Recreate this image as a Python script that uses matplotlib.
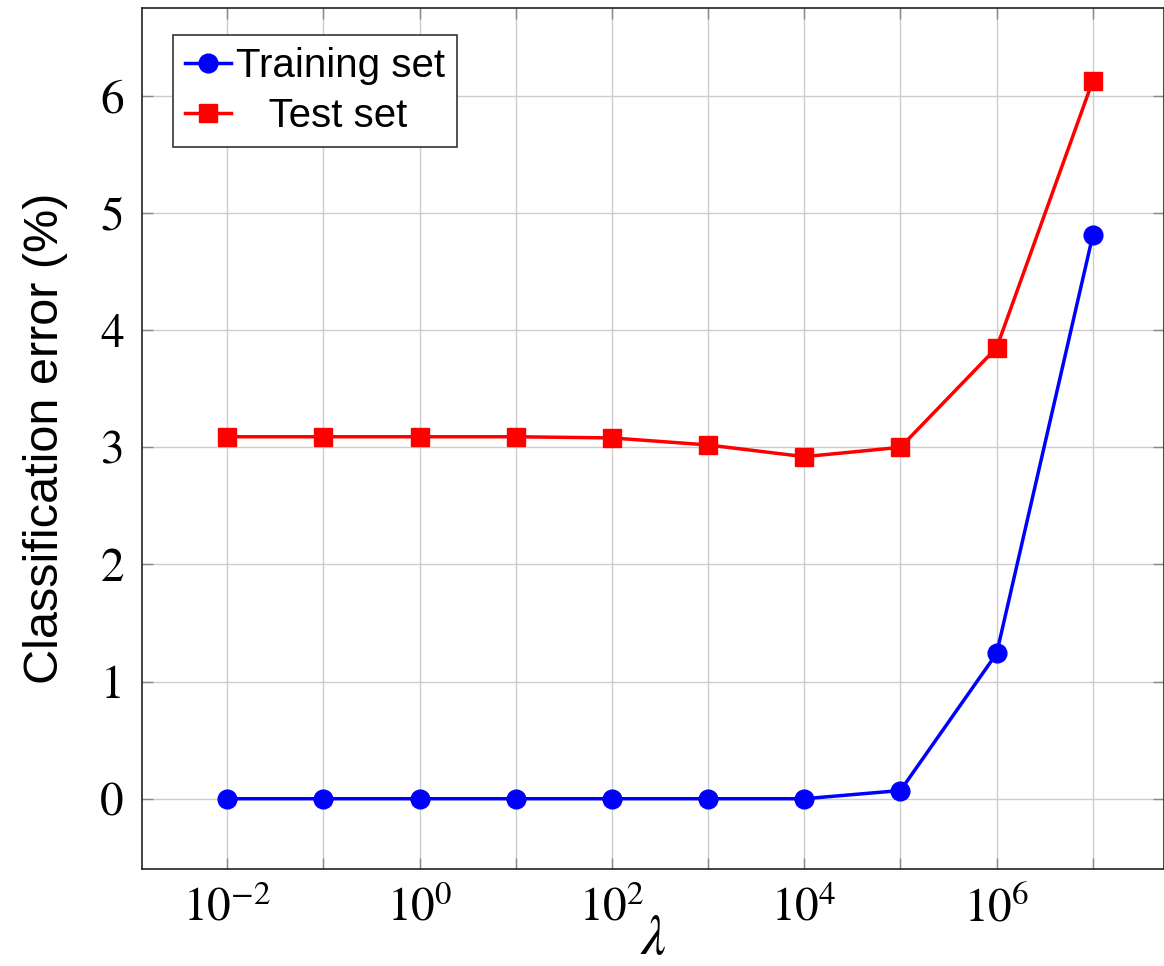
import matplotlib
matplotlib.use("Agg")
import matplotlib.pyplot as plt

plt.rcParams["mathtext.fontset"] = "stix"

# Regularisation strengths and classification errors (%)
lambdas = [1e-2, 1e-1, 1e0, 1e1, 1e2, 1e3, 1e4, 1e5, 1e6, 1e7]
train_err = [0.0, 0.0, 0.0, 0.0, 0.0, 0.0, 0.0, 0.07, 1.24, 4.81]
test_err = [3.09, 3.09, 3.09, 3.09, 3.08, 3.02, 2.92, 3.00, 3.85, 6.13]
y_ticks = [0, 1, 2, 3, 4, 5, 6]
x_ticks = [1e-2, 1e-1, 1e0, 1e1, 1e2, 1e3, 1e4, 1e5, 1e6, 1e7]
x_labels = [r"$10^{-2}$", "", r"$10^{0}$", "", r"$10^{2}$", "",
            r"$10^{4}$", "", r"$10^{6}$", ""]

fig = plt.figure(figsize=(11.64, 9.66), dpi=100)
ax = fig.add_axes([0.122, 0.1004, 0.878, 0.8913])

ax.plot(lambdas, train_err, color="blue", marker="o", markersize=13.5,
        linewidth=2.5, label="Training set", zorder=3)
ax.plot(lambdas, test_err, color="red", marker="s", markersize=13.0,
        linewidth=2.5, label="   Test set", zorder=3)

ax.set_xscale("log")
ax.set_xlim(10 ** -2.885, 10 ** 7.74)
ax.set_ylim(-0.6, 6.75)

ax.set_xticks(x_ticks)
ax.set_xticklabels(x_labels)
ax.xaxis.set_minor_locator(matplotlib.ticker.NullLocator())
ax.set_yticks(y_ticks)
ax.set_yticklabels([str(v) for v in y_ticks])

serif = "STIXGeneral"
for lab in ax.get_xticklabels() + ax.get_yticklabels():
    lab.set_fontfamily(serif)
    lab.set_fontsize(34)

ax.tick_params(axis="both", which="major", direction="in", length=8,
               width=1.0, color="#888888", top=True, right=True)
ax.tick_params(axis="x", pad=13)
ax.tick_params(axis="y", pad=13)

ax.grid(True, color="#cccccc", linewidth=1.0)
ax.set_axisbelow(True)

for sp in ax.spines.values():
    sp.set_linewidth(1.2)
    sp.set_color("#222222")

ax.set_ylabel("Classification error (%)", fontfamily="Liberation Sans",
              fontsize=35)
ax.yaxis.set_label_coords(-0.072, 0.5)
ax.set_xlabel(r"$\lambda$", fontsize=40, labelpad=-14)

leg = ax.legend(loc="upper left", bbox_to_anchor=(0.0304, 0.9686),
                prop={"family": "Liberation Sans", "size": 29},
                fancybox=False, framealpha=1.0, edgecolor="#333333",
                handlelength=1.15, handletextpad=0.12, borderpad=0.3,
                labelspacing=0.3, borderaxespad=0.0)
leg.get_frame().set_linewidth(1.2)

fig.savefig("out.png", dpi=100)
